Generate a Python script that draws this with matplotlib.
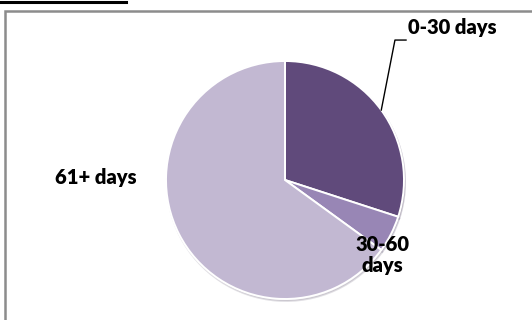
import matplotlib
matplotlib.use("Agg")
import matplotlib.pyplot as plt
import numpy as np
from matplotlib.patches import Rectangle
from matplotlib.lines import Line2D

# data
categories = ["0-30 days", "30-60 days", "61+ days"]
shares = [30, 5, 65]
colors = ["#604A7B", "#9886B5", "#C2B8D2"]

W, H = 532, 320
fig = plt.figure(figsize=(W / 100, H / 100), dpi=100)

# chart frame (runs off right and bottom of the picture)
fig.patches.append(Rectangle((4.5 / W, -0.1), 1.2, (H - 10.5) / H + 0.1,
                             transform=fig.transFigure, fill=False,
                             edgecolor="#8C8C8C", linewidth=1.8))
# underline of the cut-off heading above the chart
fig.lines.append(Line2D([0, 126 / W], [1 - 1.5 / H, 1 - 1.5 / H],
                        transform=fig.transFigure, color="black", linewidth=2.2))

cx, cy, r = 285, 180, 119
ax = fig.add_axes([(cx - r) / W, (H - cy - r) / H, 2 * r / W, 2 * r / H])
wedges, _ = ax.pie(shares, colors=colors, startangle=90, counterclock=False,
                   wedgeprops=dict(edgecolor="white", linewidth=1.4),
                   shadow=dict(ox=0.006, oy=-0.012, alpha=0.25, shade=0.3))
ax.set_xlim(-1, 1)
ax.set_ylim(-1, 1)
ax.set_axis_off()

font = dict(family="Lato", weight="heavy", size=14.5, color="black")

# 0-30 days label with leader line from the wedge's mid-angle
w0 = wedges[0]
mid = np.deg2rad((w0.theta1 + w0.theta2) / 2)
ex, ey = np.cos(mid), np.sin(mid)
ax.plot([ex, 0.924, 1.017], [ey, 1.176, 1.176], color="black", lw=1.0,
        clip_on=False)
ax.text(1.03, 1.28, categories[0], ha="left", va="center", clip_on=False, **font)

ax.text(0.82, -0.63, "30-60\ndays", ha="center", va="center",
        linespacing=1.15, clip_on=False, **font)
ax.text(-1.59, 0.025, categories[2], ha="center", va="center",
        clip_on=False, **font)

fig.savefig("out.png", dpi=100)
